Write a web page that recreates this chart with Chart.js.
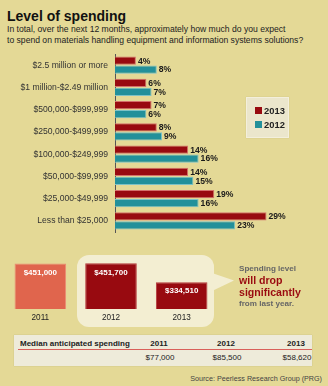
<!DOCTYPE html>
<html><head><meta charset="utf-8">
<script src="https://cdn.jsdelivr.net/npm/chart.js@4/dist/chart.umd.min.js"></script>
<style>
html,body{margin:0;padding:0;}
body{width:328px;height:386px;background:#e4d996;position:relative;overflow:hidden;font-family:"Liberation Sans",Arial,Helvetica,sans-serif;color:#222;}
.abs{position:absolute;}
#title{left:7px;top:9px;font-size:14px;line-height:14px;font-weight:bold;color:#111;white-space:nowrap;}
#sub{left:7px;top:24px;font-size:8.6px;line-height:10.5px;color:#222;white-space:nowrap;}
#legend{left:246px;top:97px;width:41px;height:39px;background:#ebe6cc;border:1px solid #f3efdc;box-shadow:0 0 1px rgba(0,0,0,0.15);}
.li{position:absolute;left:8px;font-size:9.4px;font-weight:bold;line-height:10px;color:#222;white-space:nowrap;}
.sw{display:inline-block;width:7px;height:7px;margin-right:2px;vertical-align:-0px;}
#callout{left:77px;top:255px;width:137px;height:72px;background:#f3eed2;border-radius:12px;}
#pointer{left:212px;top:273px;width:22px;height:18px;background:#f3eed2;clip-path:polygon(0 0,100% 42%,0 100%);}
#msg{left:239px;top:263px;white-space:nowrap;font-weight:bold;}
#msg .s{font-size:8.1px;line-height:11px;color:#666;}
#msg .b{font-size:10.6px;line-height:12px;color:#9a0b10;}
#table{left:14px;top:335px;width:298px;height:31px;background:#eeebda;box-shadow:0 0 1px rgba(0,0,0,0.2);}
#table div{position:absolute;font-size:8px;white-space:nowrap;line-height:10px;}
#rule{left:4px;top:14px;width:294px;height:1px;background:#d9605a;}
#source{right:6px;top:374px;font-size:7.2px;color:#444;white-space:nowrap;}
</style></head>
<body>
<div id="title" class="abs">Level of spending</div>
<div id="sub" class="abs">In total, over the next 12 months, approximately how much do you expect<br>to spend on materials handling equipment and information systems solutions?</div>

<canvas id="main" class="abs" width="328" height="186" style="left:0;top:50px;width:328px;height:186px"></canvas>
<div id="legend" class="abs"></div>

<div id="callout" class="abs"></div>
<div id="pointer" class="abs"></div>
<canvas id="avg" class="abs" width="230" height="80" style="left:0;top:250px;width:230px;height:80px"></canvas>
<div id="msg" class="abs"><div class="s">Spending level</div><div class="b">will drop</div><div class="b">significantly</div><div class="s">from last year.</div></div>

<div id="table" class="abs"></div>
<div id="source" class="abs">Source: Peerless Research Group (PRG)</div>

<script>
// ---- data ----
const categories = ['$2.5 million or more','$1 million-$2.49 million','$500,000-$999,999','$250,000-$499,999','$100,000-$249,999','$50,000-$99,999','$25,000-$49,999','Less than $25,000'];
const seriesNames = ['2013','2012'];
const values2013 = [4,6,7,8,14,14,19,29];
const values2012 = [8,7,6,9,16,15,16,23];
const avgYears = ['2011','2012','2013'];
const avgValues = [451000,451700,334510];
const avgLabels = ['$451,000','$451,700','$334,510'];
const tableTitle = 'Median anticipated spending';
const medianYears = ['2011','2012','2013'];
const medianValues = ['$77,000','$85,500','$58,620'];

const FONT = '"Liberation Sans", Arial, Helvetica, sans-serif';
const RED = '#980a10', TEAL = '#22909a';

// legend (HTML)
const legendEl = document.getElementById('legend');
[[seriesNames[0],RED,8],[seriesNames[1],TEAL,22]].forEach(([n,c,t])=>{
  const d=document.createElement('div');d.className='li';d.style.top=t+'px';
  d.innerHTML='<span class="sw" style="background:'+c+'"></span>'+n;legendEl.appendChild(d);
});

// table (HTML)
const tbl=document.getElementById('table');
function cell(txt,left,top,bold,center){const d=document.createElement('div');d.textContent=txt;d.style.top=top+'px';
  if(center){d.style.left=(left-40)+'px';d.style.width='80px';d.style.textAlign='center';}else d.style.left=left+'px';
  if(bold)d.style.fontWeight='bold';tbl.appendChild(d);}
cell(tableTitle,6,4,true,false);
const colX=[145,212,282];
medianYears.forEach((y,i)=>cell(y,colX[i],4,true,true));
medianValues.forEach((v,i)=>cell(v,colX[i]+1,18,false,true));
const r=document.createElement('div');r.id='rule';tbl.appendChild(r);

// main chart
const valueLabels={id:'valueLabels',afterDatasetsDraw(chart){
  const ctx=chart.ctx;ctx.save();ctx.font='bold 8.6px '+FONT;ctx.fillStyle='#1a1a1a';ctx.textBaseline='middle';ctx.textAlign='left';
  chart.data.datasets.forEach((ds,di)=>{chart.getDatasetMeta(di).data.forEach((el,i)=>{ctx.fillText(ds.data[i]+'%',el.x+2,el.y+0.5);});});
  ctx.restore();}};
new Chart(document.getElementById('main'),{
  type:'bar',
  data:{labels:categories,datasets:[
    {label:seriesNames[0],data:values2013,backgroundColor:RED,borderColor:'#d4716b',borderWidth:1},
    {label:seriesNames[1],data:values2012,backgroundColor:TEAL,borderColor:'#7cc2c6',borderWidth:1}]},
  options:{indexAxis:'y',responsive:false,maintainAspectRatio:false,animation:false,devicePixelRatio:1,
    layout:{padding:{top:4,bottom:4,left:0,right:4}},
    categoryPercentage:0.8,barPercentage:0.94,
    plugins:{legend:{display:false},tooltip:{enabled:false}},
    scales:{
      x:{display:false,min:0,max:40},
      y:{afterFit(s){s.width=115;s.paddingTop=0;s.paddingBottom=0;},grid:{display:false,drawTicks:false},border:{display:true,color:'#555',width:1},
         ticks:{padding:7,color:'#333',font:{family:FONT,size:8.6}}}
    }},
  plugins:[valueLabels]
});

// average spending chart
const innerLabels={id:'innerLabels',afterDatasetsDraw(chart){
  const ctx=chart.ctx;ctx.save();ctx.font='bold 8px '+FONT;ctx.fillStyle='#fff';ctx.textAlign='center';ctx.textBaseline='middle';
  chart.getDatasetMeta(0).data.forEach((el,i)=>ctx.fillText(avgLabels[i],el.x,el.y+9));ctx.restore();}};
new Chart(document.getElementById('avg'),{
  type:'bar',
  data:{labels:avgYears,datasets:[{data:avgValues,backgroundColor:['#e0654d',RED,RED],borderColor:['#ec8a74','#b4383a','#b4383a'],borderWidth:1,borderSkipped:'bottom'}]},
  options:{responsive:false,maintainAspectRatio:false,animation:false,devicePixelRatio:1,
    layout:{padding:{top:12,bottom:4,left:5,right:13}},
    categoryPercentage:1,barPercentage:0.73,
    plugins:{legend:{display:false},tooltip:{enabled:false}},
    scales:{
      y:{display:false,min:168000,max:460000},
      x:{afterFit(s){s.height=17;s.paddingLeft=0;s.paddingRight=0;},grid:{display:false,drawTicks:false},border:{display:false},
         ticks:{padding:4,color:'#222',font:{family:FONT,size:8.2}}}
    }},
  plugins:[innerLabels]
});
</script>
</body></html>
